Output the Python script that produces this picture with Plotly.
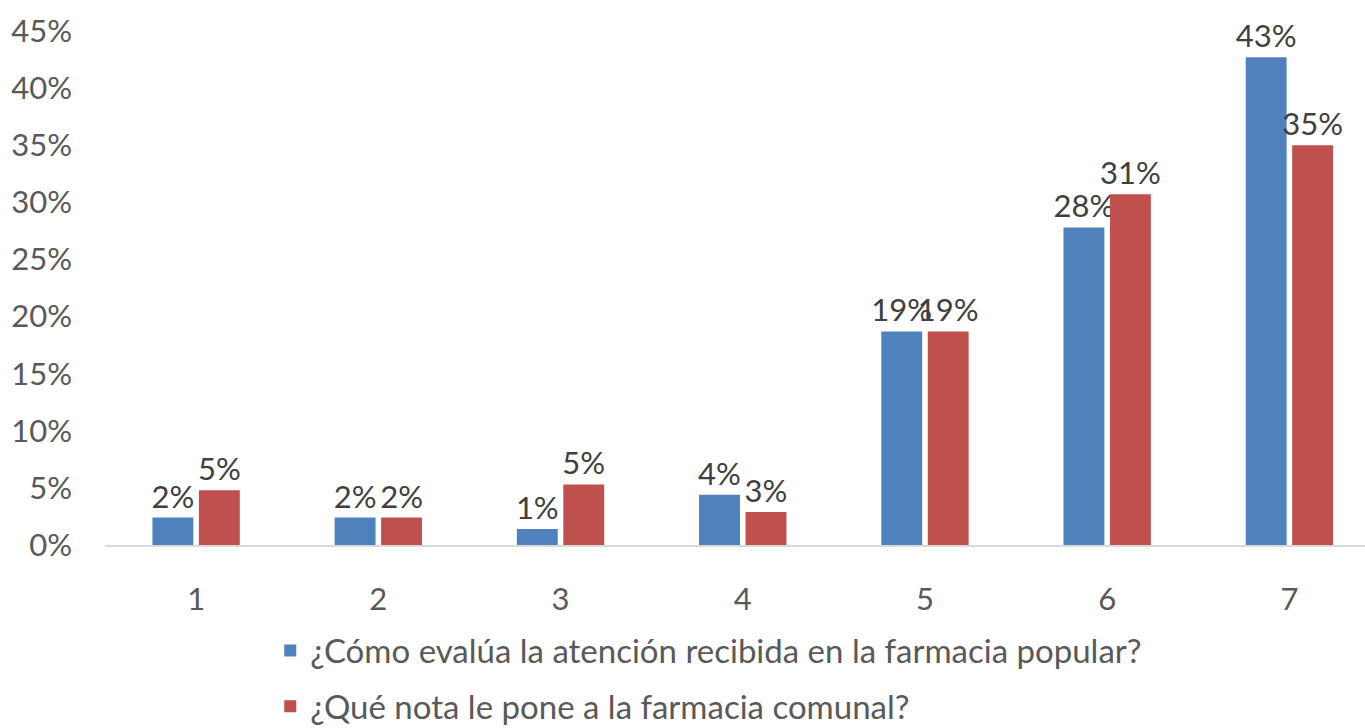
import plotly.graph_objects as go

notas = [1, 2, 3, 4, 5, 6, 7]
atencion_popular = [0.024, 0.024, 0.014, 0.044, 0.187, 0.278, 0.427]
nota_comunal = [0.048, 0.024, 0.053, 0.029, 0.187, 0.307, 0.350]

nombre_popular = "¿Cómo evalúa la atención recibida en la farmacia popular?"
nombre_comunal = "¿Qué nota le pone a la farmacia comunal?"

FUENTE = "Lato"

fig = go.Figure()

fig.add_trace(go.Bar(
    x=notas, y=atencion_popular, name=nombre_popular,
    marker=dict(color="#4F81BD", line=dict(width=0)),
    texttemplate="%{y:.0%}", textposition="outside",
    textfont=dict(family=FUENTE, size=31, color="#404040"),
    legendgroup="popular",
))
fig.add_trace(go.Bar(
    x=notas, y=nota_comunal, name=nombre_comunal,
    marker=dict(color="#C0504D", line=dict(width=0)),
    texttemplate="%{y:.0%}", textposition="outside",
    textfont=dict(family=FUENTE, size=31, color="#404040"),
    legendgroup="comunal",
))

fig.update_traces(cliponaxis=False, constraintext="none")

fig.update_xaxes(
    tickvals=notas,
    range=[0.5, 7.415],
    showgrid=False,
    showline=True, linecolor="#D9D9D9", linewidth=2,
    ticks="",
    ticklabelstandoff=26,
    tickfont=dict(family=FUENTE, size=31, color="#595959"),
    zeroline=False,
)

fig.update_yaxes(
    range=[0, 0.45],
    dtick=0.05,
    tickformat=".0%",
    showgrid=False,
    zeroline=False,
    showline=False,
    ticks="",
    ticklabelstandoff=32,
    tickfont=dict(family=FUENTE, size=31, color="#595959"),
)

fig.update_layout(
    width=1365, height=728,
    autosize=False,
    barmode="group",
    bargap=0.49,
    bargroupgap=0.12,
    margin=dict(l=105, r=0, t=31, b=183, autoexpand=False),
    plot_bgcolor="#fff",
    paper_bgcolor="#fff",
    showlegend=True,
    legend=dict(
        orientation="v",
        xref="container", yref="container",
        x=0.198, xanchor="left",
        y=0.068, yanchor="middle",
        tracegroupgap=10,
        font=dict(family=FUENTE, size=33, color="#595959"),
        bgcolor="rgba(0,0,0,0)",
    ),
)

# quitar el margen por defecto del <body> para que la figura quepa justa
fig.write_html("out.html", config={"displayModeBar": False},
               post_script="document.body.style.margin='0';")
